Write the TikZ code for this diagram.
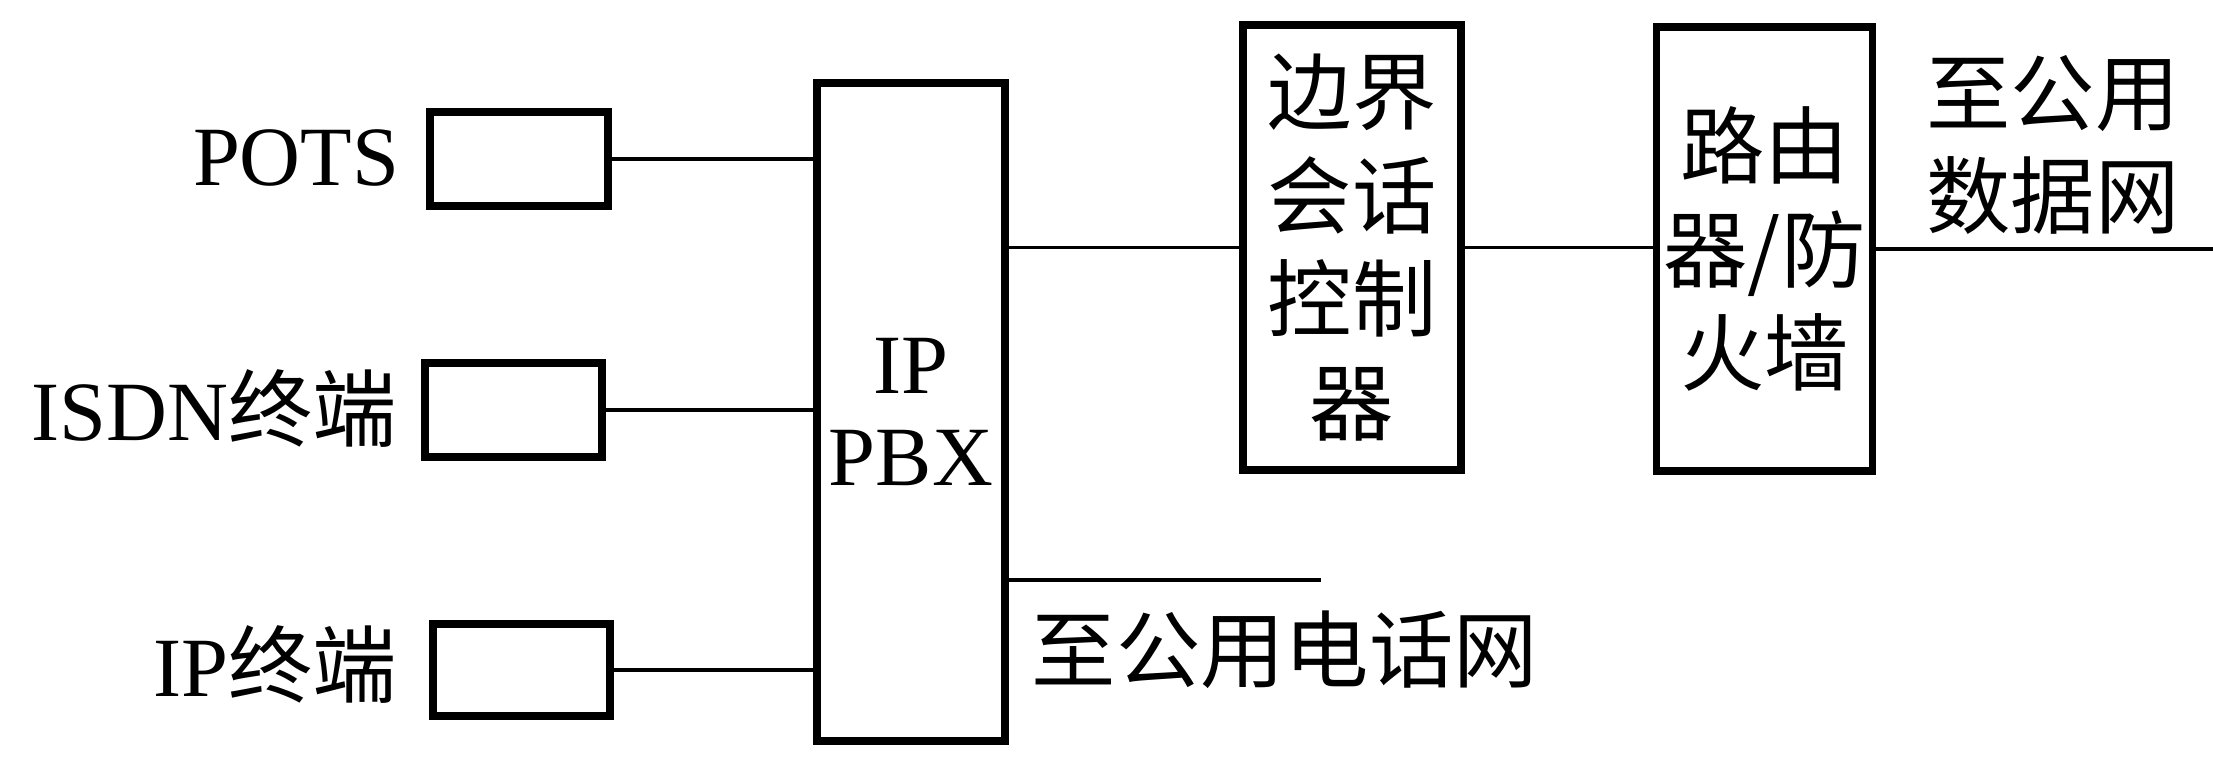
\documentclass[tikz,border=0pt]{standalone}
\usepackage{fontspec}
\setmainfont{Liberation Serif}
\newfontfamily\cjk{Noto Sans CJK SC}
\tikzset{
  box/.style={draw,line width=2pt,inner sep=0pt,align=center,font=\fontsize{24}{29.5}\selectfont},
  wire/.style={line width=1pt},
  txt/.style={inner sep=0pt,align=center,font=\fontsize{24}{29.5}\selectfont}
}

\begin{document}
\begin{tikzpicture}
      \useasboundingbox (0,0) rectangle (22.13,7.61); % page
      \node[box,minimum width=1.78cm,minimum height=0.94cm] (pots) at (5.19,6.02) {}; % POTS box
      \node[box,minimum width=1.77cm,minimum height=0.94cm] (isdn) at (5.135,3.51) {}; % ISDN box
      \node[box,minimum width=1.77cm,minimum height=0.92cm] (ipt) at (5.215,0.91) {}; % IP box
      \node[box,minimum width=1.88cm,minimum height=6.58cm,font=\fontsize{24}{26.4}\selectfont] (pbx) at (9.11,3.49) {IP\\PBX}; % IP PBX
      \node[box,minimum width=2.18cm,minimum height=4.45cm] (sbc) at (13.52,5.135) {\cjk 边界\\\cjk 会话\\\cjk 控制\\\cjk 器}; % border controller
      \node[box,minimum width=2.16cm,minimum height=4.44cm] (router) at (17.645,5.12) {\cjk 路由\\\cjk 器/防\\\cjk 火墙}; % router
      \node[txt,anchor=base east] (potsl) at (4.00,5.76) {POTS}; % POTS label
      \node[txt,anchor=base east] (isdnl) at (3.98,3.21) {ISDN{\cjk 终端}}; % ISDN label
      \node[txt,anchor=base east] (iptl) at (3.98,0.65) {IP{\cjk 终端}}; % IP label
      \node[txt] (pdnl) at (20.53,6.16) {\cjk 至公用\\\cjk 数据网}; % data net label
      \node[txt,anchor=west] (pstnl) at (10.31,1.11) {\cjk 至公用电话网}; % phone net label
      \coordinate (pdn) at (22.13,5.12); % data net end
      \coordinate (pstn) at (13.21,1.81); % phone net end
      \draw[wire] (pots) -- (pots -| pbx.west); % Wiring
      \draw[wire] (isdn) -- (isdn -| pbx.west); % Wiring
      \draw[wire] (ipt) -- (ipt -| pbx.west); % Wiring
      \draw[wire] (pbx.east |- sbc) -- (sbc); % Wiring
      \draw[wire] (sbc) -- (sbc -| router.west); % Wiring
      \draw[wire] (router) -- (pdn); % Wiring
      \draw[wire] (pbx.east |- pstn) -- (pstn); % Wiring
\end{tikzpicture}
\end{document}
